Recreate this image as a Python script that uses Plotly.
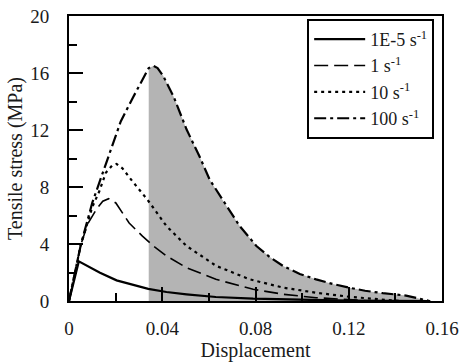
import plotly.graph_objects as go

# ---- data ----
x_1e5 = [0, 0.0042, 0.0133, 0.0204, 0.034, 0.0418, 0.0504, 0.063, 0.079, 0.099, 0.12, 0.155]
y_1e5 = [0, 2.78, 1.99, 1.45, 0.85, 0.63, 0.47, 0.28, 0.16, 0.07, 0.02, 0]

x_1 = [0, 0.005, 0.008, 0.012, 0.0145, 0.017, 0.0201, 0.0258, 0.0315, 0.0365, 0.0418, 0.0504, 0.063, 0.079, 0.092, 0.106, 0.12, 0.13]
y_1 = [0, 3.9, 5.4, 6.5, 7.0, 7.18, 6.88, 5.47, 4.55, 3.82, 3.16, 2.34, 1.52, 0.82, 0.47, 0.23, 0.1, 0]

x_10 = [0, 0.005, 0.01, 0.013, 0.0158, 0.0185, 0.0204, 0.023, 0.0272, 0.0337, 0.0418, 0.0504, 0.0632, 0.0775, 0.0918, 0.106, 0.12, 0.135, 0.142]
y_10 = [0, 3.9, 6.6, 7.7, 9.0, 9.5, 9.62, 9.3, 8.4, 7.1, 5.26, 3.86, 2.46, 1.52, 0.94, 0.58, 0.3, 0.12, 0]

x_100 = [0, 0.005, 0.01, 0.013, 0.0172, 0.0204, 0.0222, 0.0275, 0.0333, 0.0342, 0.0362, 0.038, 0.0404, 0.045, 0.0504, 0.0561, 0.0604,
         0.0675, 0.0732, 0.0804, 0.086, 0.0918, 0.099, 0.106, 0.113, 0.12, 0.127, 0.1346, 0.1446, 0.15, 0.1546]
y_100 = [0, 3.9, 6.9, 8.3, 10.3, 11.9, 12.6, 14.3, 16.1, 16.35, 16.5, 16.35, 15.8, 14.3, 12.05, 10.1, 8.5,
         6.67, 5.26, 3.86, 3.1, 2.46, 1.9, 1.52, 1.2, 0.94, 0.72, 0.55, 0.38, 0.18, 0]

FILL_START = 0.0342

x_ticks = [0, 0.04, 0.08, 0.12, 0.16]
x_ticktext = ["0", "0.04", "0.08", "0.12", "0.16"]
y_ticks = [0, 4, 8, 12, 16, 20]

TXT = "#1a1a1a"
SERIF = "Liberation Serif"

fig = go.Figure()

fx = [x for x in x_100 if x >= FILL_START]
fy = [y for x, y in zip(x_100, y_100) if x >= FILL_START]
fig.add_trace(go.Scatter(x=fx, y=fy, mode="lines", line=dict(width=0, color="#b4b4b4"),
                         fill="tozeroy", fillcolor="#b4b4b4", showlegend=False, hoverinfo="skip"))

fig.add_trace(go.Scatter(x=x_1e5, y=y_1e5, mode="lines", name="1E-5 s<sup>-1</sup>",
                         line=dict(color="black", width=2.2, dash="solid")))
fig.add_trace(go.Scatter(x=x_1, y=y_1, mode="lines", name="1 s<sup>-1</sup>",
                         line=dict(color="black", width=1.6, dash="14px,6px")))
fig.add_trace(go.Scatter(x=x_10, y=y_10, mode="lines", name="10 s<sup>-1</sup>",
                         line=dict(color="black", width=2.2, dash="3px,4px")))
fig.add_trace(go.Scatter(x=x_100, y=y_100, mode="lines", name="100 s<sup>-1</sup>",
                         line=dict(color="black", width=2.2, dash="12px,4px,3px,4px")))

axis_common = dict(showline=True, linecolor="black", linewidth=2, mirror=True,
                   ticks="inside", ticklen=14, tickwidth=1.5, tickcolor="black",
                   showgrid=False, zeroline=False, automargin=False, ticklabeloverflow="allow")

fig.update_xaxes(range=[0, 0.16], tickvals=x_ticks, ticktext=x_ticktext,
                 tickfont=dict(family=SERIF, size=19, color=TXT),
                 minor=dict(ticks="inside", ticklen=8, tickwidth=1.5, tickcolor="black", dtick=0.02, tick0=0),
                 ticklabelstandoff=9,
                 title=dict(text="Displacement", font=dict(family=SERIF, size=20, color=TXT), standoff=6),
                 **axis_common)
fig.update_yaxes(range=[0, 20], tickvals=y_ticks,
                 tickfont=dict(family=SERIF, size=19, color=TXT),
                 minor=dict(ticks="inside", ticklen=8, tickwidth=1.5, tickcolor="black", dtick=2, tick0=0),
                 ticklabelstandoff=14,
                 title=dict(text="Tensile stress (MPa)", font=dict(family=SERIF, size=20, color=TXT), standoff=2),
                 **axis_common)

fig.update_layout(
    width=461, height=362,
    margin=dict(l=69, r=19, t=16, b=61),
    font=dict(family=SERIF, size=19, color=TXT),
    plot_bgcolor="white", paper_bgcolor="white",
    showlegend=True,
    legend=dict(x=0.979, y=0.99, xanchor="right", yanchor="top",
                bordercolor="black", borderwidth=2, bgcolor="white",
                font=dict(family=SERIF, size=18, color=TXT),
                itemwidth=51, tracegroupgap=0),
)

fig.write_html("out.html")
